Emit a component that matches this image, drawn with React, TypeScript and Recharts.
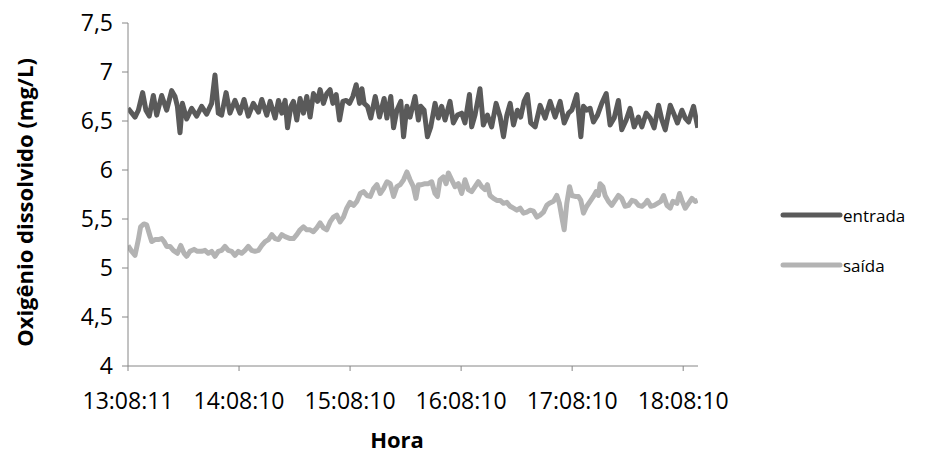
import React from 'react';
import { LineChart, Line, XAxis, YAxis, Legend, Label } from 'recharts';

// Minutes elapsed since 13:08:11 and dissolved-oxygen readings (mg/L)
const entradaMin = [
  0, 3.8, 5.6, 7.9, 9.7, 11.5, 13.7, 15.5, 18.2, 20.9, 23.6, 25.4, 26.7, 28.1, 29.4, 31.7, 34.4, 37.1, 39.8, 42.5,
  45.2, 47.0, 48.8, 50.6, 53.0, 55.1, 57.8, 60.5, 62.7, 65.0, 67.7, 70.5, 72.3, 75.0, 76.8, 79.5, 81.3, 83.1, 84.9, 86.2,
  88.0, 89.4, 91.2, 93.0, 94.8, 96.6, 98.4, 100.2, 102.4, 103.8, 105.6, 107.4, 109.2, 110.7, 112.5, 114.3, 116.1, 117.9, 119.7, 121.5,
  123.3, 125.1, 126.4, 127.6, 129.4, 131.2, 133.6, 135.9, 138.4, 139.9, 142.0, 143.5, 145.3, 147.4, 148.9, 150.7, 152.4, 155.1, 156.9, 158.2,
  160.0, 161.8, 163.6, 165.9, 167.7, 169.5, 171.3, 174.0, 175.8, 178.0, 180.3, 182.1, 184.5, 185.7, 187.5, 190.2, 192.0, 194.2, 196.5, 198.9,
  201.1, 202.9, 204.7, 206.5, 208.3, 210.4, 212.2, 214.0, 215.8, 217.6, 220.0, 222.7, 225.4, 228.1, 230.8, 233.5, 235.7, 238.0, 239.8, 242.5,
  244.7, 246.1, 247.9, 249.7, 251.5, 253.7, 256.0, 258.4, 260.5, 262.7, 265.0, 266.8, 269.2, 271.3, 273.5, 275.8, 277.7, 280.0, 282.2, 284.3,
  286.7, 288.5, 290.3, 293.0, 294.8, 296.9, 299.3, 301.1, 302.9, 305.6, 307.9,
];
const entradaVal = [
  6.63, 6.54, 6.61, 6.79, 6.61, 6.55, 6.76, 6.56, 6.76, 6.61, 6.81, 6.75, 6.65, 6.38, 6.68, 6.52, 6.63, 6.55, 6.65, 6.57,
  6.68, 6.97, 6.58, 6.56, 6.79, 6.58, 6.71, 6.58, 6.72, 6.55, 6.68, 6.59, 6.72, 6.56, 6.70, 6.53, 6.71, 6.58, 6.71, 6.43,
  6.65, 6.70, 6.51, 6.73, 6.58, 6.75, 6.54, 6.78, 6.70, 6.82, 6.68, 6.78, 6.82, 6.68, 6.77, 6.51, 6.70, 6.71, 6.68, 6.75,
  6.87, 6.68, 6.83, 6.68, 6.65, 6.53, 6.75, 6.54, 6.73, 6.53, 6.75, 6.43, 6.61, 6.70, 6.34, 6.65, 6.54, 6.75, 6.51, 6.65,
  6.61, 6.34, 6.44, 6.68, 6.53, 6.65, 6.51, 6.70, 6.48, 6.56, 6.58, 6.48, 6.77, 6.44, 6.56, 6.83, 6.46, 6.56, 6.44, 6.68,
  6.54, 6.34, 6.56, 6.68, 6.46, 6.61, 6.54, 6.70, 6.77, 6.48, 6.44, 6.66, 6.53, 6.70, 6.54, 6.70, 6.48, 6.58, 6.61, 6.77,
  6.34, 6.65, 6.61, 6.63, 6.49, 6.56, 6.68, 6.78, 6.46, 6.53, 6.71, 6.41, 6.51, 6.63, 6.44, 6.54, 6.44, 6.58, 6.53, 6.43,
  6.66, 6.51, 6.41, 6.66, 6.58, 6.48, 6.61, 6.53, 6.49, 6.65, 6.43,
];

const saidaMin = [
  0, 2.0, 3.8, 5.6, 6.8, 8.6, 10.1, 11.5, 12.8, 14.6, 16.4, 18.2, 19.5, 20.9, 22.7, 24.5, 26.7, 28.5, 30.3, 31.7,
  33.5, 35.7, 37.5, 39.8, 41.6, 43.4, 45.2, 47.0, 48.8, 50.6, 52.4, 54.2, 56.0, 57.8, 59.6, 61.4, 63.2, 65.0, 66.8, 68.6,
  70.5, 72.3, 74.1, 75.9, 77.7, 79.5, 81.3, 83.1, 84.9, 87.6, 89.4, 91.2, 93.0, 94.8, 96.6, 98.4, 100.2, 102.0, 103.8, 105.6,
  107.4, 109.2, 111.0, 112.8, 114.6, 116.4, 118.2, 120.0, 121.9, 123.7, 125.5, 127.3, 129.1, 130.9, 132.7, 134.5, 136.3, 138.1, 139.9, 141.7,
  143.5, 145.3, 147.1, 148.9, 150.7, 152.4, 154.2, 155.6, 156.9, 158.7, 160.5, 162.3, 164.1, 165.9, 167.2, 168.6, 170.4, 171.9, 173.1, 174.9,
  176.7, 178.5, 180.3, 182.1, 183.9, 185.7, 187.5, 189.3, 191.1, 192.9, 194.2, 195.6, 197.5, 199.3, 201.1, 202.9, 204.7, 206.5, 208.3, 210.1,
  211.9, 213.7, 215.5, 217.3, 219.1, 220.9, 222.7, 224.5, 226.3, 227.7, 229.9, 231.7, 233.1, 234.4, 235.7, 237.1, 238.6, 239.8, 241.6, 243.4,
  244.7, 246.1, 247.9, 249.7, 251.5, 253.0, 254.2, 255.1, 256.6, 257.8, 259.6, 261.4, 263.2, 265.0, 266.8, 268.6, 270.5, 272.3, 274.1, 275.9,
  277.7, 279.5, 280.7, 282.5, 284.3, 286.1, 287.9, 289.4, 291.2, 293.0, 294.4, 296.6, 298.0, 299.3, 301.1, 302.9, 304.7, 306.5, 307.8,
];
const saidaVal = [
  5.23, 5.17, 5.13, 5.29, 5.42, 5.45, 5.44, 5.35, 5.27, 5.29, 5.29, 5.30, 5.27, 5.22, 5.22, 5.18, 5.15, 5.23, 5.15, 5.12,
  5.17, 5.19, 5.17, 5.17, 5.18, 5.15, 5.17, 5.12, 5.17, 5.18, 5.22, 5.18, 5.17, 5.13, 5.17, 5.15, 5.18, 5.22, 5.18, 5.17,
  5.18, 5.23, 5.27, 5.29, 5.34, 5.30, 5.29, 5.34, 5.32, 5.30, 5.30, 5.34, 5.39, 5.42, 5.39, 5.39, 5.37, 5.41, 5.46, 5.41,
  5.39, 5.47, 5.52, 5.54, 5.47, 5.52, 5.61, 5.67, 5.64, 5.68, 5.76, 5.78, 5.74, 5.73, 5.81, 5.85, 5.76, 5.81, 5.88, 5.86,
  5.73, 5.83, 5.85, 5.90, 5.98, 5.90, 5.83, 5.71, 5.85, 5.85, 5.86, 5.86, 5.88, 5.76, 5.73, 5.90, 5.93, 5.86, 5.97, 5.90,
  5.83, 5.86, 5.76, 5.90, 5.80, 5.78, 5.83, 5.88, 5.83, 5.80, 5.85, 5.74, 5.71, 5.69, 5.69, 5.66, 5.67, 5.63, 5.61, 5.59,
  5.61, 5.56, 5.57, 5.59, 5.58, 5.52, 5.54, 5.57, 5.64, 5.66, 5.68, 5.74, 5.66, 5.52, 5.39, 5.66, 5.83, 5.74, 5.73, 5.73,
  5.69, 5.56, 5.63, 5.68, 5.73, 5.78, 5.74, 5.86, 5.83, 5.74, 5.68, 5.64, 5.69, 5.74, 5.71, 5.63, 5.64, 5.69, 5.68, 5.64,
  5.63, 5.66, 5.69, 5.63, 5.64, 5.66, 5.68, 5.74, 5.64, 5.61, 5.68, 5.66, 5.76, 5.69, 5.61, 5.66, 5.71, 5.68, 5.69,
];

const hourTicks = [0, 60, 120, 180, 240, 300];
const hourLabels = ['13:08:11', '14:08:10', '15:08:10', '16:08:10', '17:08:10', '18:08:10'];
const oxygenTicks = [4, 4.5, 5, 5.5, 6, 6.5, 7, 7.5];

const FONT = '"Open Sans", sans-serif';
const AXIS_GREY = '#868686';
const DARK = '#5a5a5a';
const LIGHT = '#b3b3b3';

const toRows = (mins: number[], vals: number[]) => mins.map((t, i) => ({ t, v: vals[i] }));
const entradaRows = toRows(entradaMin, entradaVal);
const saidaRows = toRows(saidaMin, saidaVal);

const hourLabel = (m: number) => hourLabels[hourTicks.indexOf(m)] ?? '';
const commaDecimal = (v: number) => String(v).replace('.', ',');

const YTitle = (props: any) => {
  const { viewBox } = props;
  const cx = 33;
  const cy = viewBox.y + viewBox.height / 2 + 8;
  return (
    <text
      x={cx}
      y={cy}
      transform={`rotate(-90 ${cx} ${cy})`}
      textAnchor="middle"
      fontFamily={FONT}
      fontWeight={700}
      fontSize={22}
      fill="#000"
    >
      Oxigênio dissolvido (mg/L)
    </text>
  );
};

const XTitle = (props: any) => {
  const { viewBox } = props;
  const cx = viewBox.x + viewBox.width / 2 - 16;
  return (
    <text x={cx} y={448} textAnchor="middle" fontFamily={FONT} fontWeight={700} fontSize={22} fill="#000">
      Hora
    </text>
  );
};

const SeriesLegend = (props: any) => {
  const { payload = [] } = props;
  return (
    <svg width={150} height={90} style={{ display: 'block' }}>
      {payload.map((p: any, i: number) => {
        const y = 20 + i * 50;
        return (
          <g key={p.value}>
            <line x1={5} x2={62} y1={y} y2={y} stroke={p.color} strokeWidth={5} strokeLinecap="round" />
            <text x={65} y={y} dominantBaseline="central" fontFamily={FONT} fontSize={17} fill="#000">
              {p.value}
            </text>
          </g>
        );
      })}
    </svg>
  );
};

export default function App() {
  return (
    // cancel the default body margin so the chart fills the whole window
    <div style={{ margin: -8, width: 932, height: 462, overflow: 'hidden' }}>
      <LineChart width={932} height={462} margin={{ top: 23, right: 234, bottom: 0, left: 0 }}>
        <XAxis
          dataKey="t"
          type="number"
          domain={[0, 308]}
          ticks={hourTicks}
          tickFormatter={hourLabel}
          allowDataOverflow
          height={96}
          axisLine={{ stroke: AXIS_GREY, strokeWidth: 1 }}
          tickLine={{ stroke: AXIS_GREY }}
          tickSize={5}
          tickMargin={22}
          tick={{ fill: '#000', fontSize: 23, fontFamily: FONT }}
          interval={0}
        >
          <Label content={<XTitle />} />
        </XAxis>
        <YAxis
          type="number"
          domain={[4, 7.5]}
          ticks={oxygenTicks}
          tickFormatter={commaDecimal}
          width={128}
          axisLine={{ stroke: AXIS_GREY, strokeWidth: 1 }}
          tickLine={{ stroke: AXIS_GREY }}
          tickSize={6}
          tickMargin={9}
          tick={{ fill: '#000', fontSize: 23, fontFamily: FONT }}
          interval={0}
        >
          <Label content={<YTitle />} />
        </YAxis>
        <Legend
          layout="horizontal"
          align="center"
          verticalAlign="middle"
          content={<SeriesLegend />}
          wrapperStyle={{ left: 778, top: 195, width: 150, height: 90 }}
        />
        <Line
          data={entradaRows}
          dataKey="v"
          name="entrada"
          type="linear"
          stroke={DARK}
          strokeWidth={5}
          strokeLinejoin="round"
          dot={false}
          activeDot={false}
          isAnimationActive={false}
        />
        <Line
          data={saidaRows}
          dataKey="v"
          name="saída"
          type="linear"
          stroke={LIGHT}
          strokeWidth={5}
          strokeLinejoin="round"
          dot={false}
          activeDot={false}
          isAnimationActive={false}
        />
      </LineChart>
    </div>
  );
}
